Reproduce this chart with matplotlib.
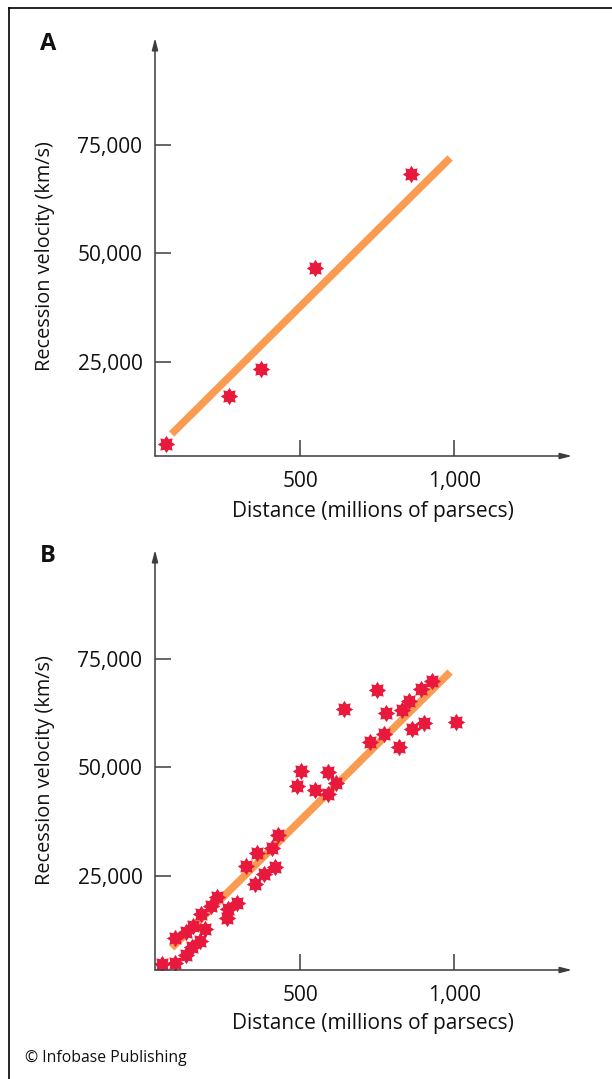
import numpy as np
import matplotlib.pyplot as plt
from matplotlib.path import Path
from matplotlib.lines import Line2D
from matplotlib.ticker import FuncFormatter

plt.rcParams['font.family'] = ['Open Sans', 'DejaVu Sans']

# panel A: a handful of galaxies
dist_a = [66, 270, 374, 548, 859]
vel_a = [5900, 17150, 23300, 46500, 68250]

# panel B: many galaxies
dist_b = [52, 96, 95, 131, 132, 150, 154, 175, 192, 180, 212, 231, 264, 268,
          295, 325, 354, 362, 383, 408, 419, 430, 491, 502, 549, 589, 592, 617,
          643, 727, 749, 773, 779, 822, 830, 854, 862, 891, 903, 929, 1006]
vel_b = [4700, 4850, 10550, 6600, 12080, 8400, 13300, 9950, 12620, 16150,
         17900, 20000, 15250, 17230, 18620, 27300, 23150, 30300, 25300, 31320,
         27070, 34390, 45770, 49160, 44770, 43850, 48860, 46460, 63400, 55780,
         67850, 57630, 62620, 54770, 63240, 65390, 58780, 68010, 60310, 70000,
         60400]

# fitted line (same in both panels)
fit_d = [84, 986]
fit_v = [8300, 72000]

x_ticks = [500, 1000]
y_ticks = [25000, 50000, 75000]

star = Path.unit_regular_star(8, innerCircle=0.66)
red = '#E8193D'
orange = '#F99C52'
axcol = '#3c3c3c'
txt = '#111111'

W, H = 612, 1079
fig = plt.figure(figsize=(W / 100, H / 100), dpi=100)


def panel(top, bottom, ytop, dist, vel, letter, ylab_y, xlab_y):
    ax = fig.add_axes([155 / W, 1 - bottom / H, (572 - 155) / W, (bottom - top) / H])
    ax.plot(fit_d, fit_v, color=orange, lw=5.4, solid_capstyle='butt', zorder=2)
    ax.plot(dist, vel, ls='none', marker=star, ms=12.5, color=red,
            markeredgewidth=0, zorder=3)
    ax.set_xlim(30, 1381)
    ax.set_ylim(3200, ytop)
    for s in ax.spines.values():
        s.set_visible(False)
    for xy in [(0, 1), (1, 0)]:
        ax.annotate('', xy=xy, xytext=(0, 0), xycoords='axes fraction',
                    arrowprops=dict(arrowstyle='-|>,head_length=0.7,head_width=0.18',
                                    color=axcol, lw=1.1, shrinkA=0, shrinkB=0))
    ax.set_xticks(x_ticks)
    ax.set_yticks(y_ticks)
    fmt = FuncFormatter(lambda v, p: f'{v:,.0f}')
    ax.xaxis.set_major_formatter(fmt)
    ax.yaxis.set_major_formatter(fmt)
    ax.tick_params(direction='in', length=11.5, width=1.1, color=axcol,
                   labelsize=15, labelcolor=txt)
    ax.tick_params(axis='y', pad=9)
    ax.tick_params(axis='x', pad=11)
    fig.text(45 / W, 1 - ylab_y / H, 'Recession velocity (km/s)', rotation=90,
             ha='center', va='center', fontsize=14.3, color=txt)
    fig.text(373 / W, 1 - xlab_y / H, 'Distance (millions of parsecs)',
             ha='center', va='center', fontsize=15, color=txt)
    fig.text(48 / W, 1 - (top + 6) / H, letter, ha='center', va='center',
             fontsize=17, fontweight='bold', color=txt)
    return ax


panel(38, 456, 99700, dist_a, vel_a, 'A', 256, 511)
panel(550, 970, 100200, dist_b, vel_b, 'B', 770, 1023)

fig.text(25 / W, 1 - 1058 / H, '\u00a9 Infobase Publishing', ha='left',
         va='center', fontsize=11.3, color=txt)

# frame lines at top and left
fig.add_artist(Line2D([9 / W, 9 / W], [0, 1 - 8 / H], color='black', lw=1.2))
fig.add_artist(Line2D([9 / W, 1], [1 - 8 / H, 1 - 8 / H], color='black', lw=1.2))

fig.savefig('out.png', dpi=100)
